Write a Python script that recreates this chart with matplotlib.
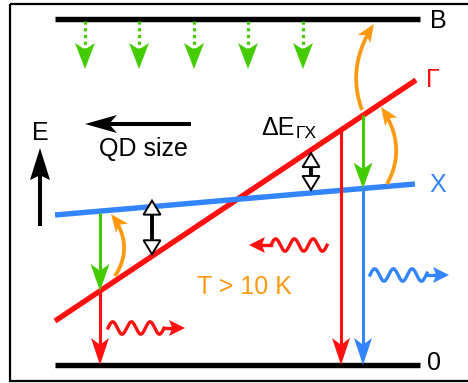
import numpy as np
import matplotlib
matplotlib.use('Agg')
import matplotlib.pyplot as plt
from matplotlib.patches import Polygon, Rectangle

plt.rcParams['font.family'] = ['Liberation Sans', 'DejaVu Sans']

# schematic band diagram, all in pixel-like units (energy grows upward = smaller y)
level_x = [55, 420]          # extent of the flat levels
b_level = 19                 # barrier/continuum level B
zero_level = 365             # ground state 0
gamma_x = [55, 416]
gamma_e = [321, 80]          # direct (Gamma) level vs. QD size
xband_x = [55, 415]
xband_e = [215, 184]         # indirect (X) level vs. QD size
capture_x = [85, 139, 194, 248, 303]   # dotted capture arrows from B
left_dot = 100               # large-QD transitions
right_red = 341              # small-QD Gamma emission
right_blue = 363             # small-QD X emission
gap_marks = [152, 311]       # positions of the Delta E arrows

RED = '#ff1010'
BLUE = '#3385ff'
GREEN = '#44cc00'
ORANGE = '#ff9a10'


def gam(x):
    return np.interp(x, gamma_x, gamma_e)


def xb(x):
    return np.interp(x, xband_x, xband_e)


def head(ax, tip, d, L, W, color, notch=0.25, hollow=False):
    d = np.asarray(d, float)
    d = d / np.linalg.norm(d)
    n = np.array([-d[1], d[0]])
    tip = np.asarray(tip, float)
    back = tip - d * L
    pts = [tip, back + n * W / 2, tip - d * L * (1 - notch), back - n * W / 2]
    if hollow:
        ax.add_patch(Polygon(pts, closed=True, fc='white', ec=color, lw=1.4,
                             joinstyle='miter', zorder=6))
    else:
        ax.add_patch(Polygon(pts, closed=True, fc=color, ec='none', zorder=6))


def arrow(ax, p0, p1, color, lw, L, W, notch=0.25, ls='-'):
    p0 = np.asarray(p0, float)
    p1 = np.asarray(p1, float)
    d = (p1 - p0) / np.linalg.norm(p1 - p0)
    end = p1 - d * L * (1 - notch)
    ax.plot([p0[0], end[0]], [p0[1], end[1]], color=color, lw=lw, ls=ls,
            solid_capstyle='butt', dash_capstyle='butt', zorder=5)
    head(ax, p1, d, L, W, color, notch)


def curved(ax, p0, c, p1, color, lw, L, W):
    p0, c, p1 = (np.asarray(p, float) for p in (p0, c, p1))
    t = np.linspace(0, 0.93, 60)[:, None]
    pts = (1 - t) ** 2 * p0 + 2 * (1 - t) * t * c + t ** 2 * p1
    ax.plot(pts[:, 0], pts[:, 1], color=color, lw=lw, solid_capstyle='butt', zorder=5)
    head(ax, p1, p1 - c, L, W, color, 0.25)


def wavy(ax, x0, x1, y, tip, color, P=18.7, A=6.2):
    xs = np.linspace(x0, x1, 200)
    ys = y - A * np.sin(2 * np.pi * (xs - x0) / P)
    ax.plot(xs, ys, color=color, lw=2.4, zorder=5)
    L = 16
    if tip > x1:
        ax.plot([x1, tip - L * 0.8], [y, y], color=color, lw=2.4, zorder=5)
        head(ax, (tip, y), (1, 0), L, 16, color, 0.2)
    else:
        ax.plot([tip + L * 0.8, x0], [y, y], color=color, lw=2.4, zorder=5)
        head(ax, (tip, y), (-1, 0), L, 16, color, 0.2)


def double(ax, x, y_top, y_bot):
    L, W = 14, 17
    ax.plot([x, x], [y_top + L, y_bot - L], color='black', lw=2.8,
            solid_capstyle='butt', zorder=5)
    head(ax, (x, y_top), (0, -1), L, W, 'black', 0, hollow=True)
    head(ax, (x, y_bot), (0, 1), L, W, 'black', 0, hollow=True)


fig = plt.figure(figsize=(4.68, 3.83), dpi=100)
ax = fig.add_axes([0, 0, 1, 1])
ax.set_xlim(0, 468)
ax.set_ylim(383, 0)
ax.axis('off')

ax.add_patch(Rectangle((10, 4), 480, 377, fill=False, ec='black', lw=1.6,
                       clip_on=False, zorder=1))

# levels
ax.plot(level_x, [b_level] * 2, color='black', lw=3.9, solid_capstyle='butt', zorder=4)
ax.plot(level_x, [zero_level] * 2, color='black', lw=3.9, solid_capstyle='butt', zorder=4)
ax.plot(gamma_x, gamma_e, color=RED, lw=3.9, solid_capstyle='butt', zorder=4)
ax.plot(xband_x, xband_e, color=BLUE, lw=3.9, solid_capstyle='butt', zorder=4)

fs = 18
ax.text(430, b_level + 2, 'B', fontsize=fs, va='center', ha='left')
ax.text(427, zero_level - 2, '0', fontsize=fs, va='center', ha='left')
ax.text(426, gamma_e[1], 'Γ', fontsize=fs, va='center', ha='left', color=RED)
ax.text(429, xband_e[1] + 1, 'X', fontsize=fs, va='center', ha='left', color=BLUE)

# capture from B
for x in capture_x:
    arrow(ax, (x, b_level + 2), (x, 69), GREEN, 2.3, 26, 20, 0.25, ls=(0, (1, 1.1)))

# axes hints
arrow(ax, (40, 226), (40, 148), 'black', 2.9, 32, 20, 0.15)
ax.text(40, 133, 'E', fontsize=fs, ha='center', va='center')
arrow(ax, (191, 124), (85, 124), 'black', 2.9, 32, 18, 0.25)
ax.text(143, 149, 'QD size', fontsize=fs, ha='center', va='center')

# energy separation
double(ax, gap_marks[0], xb(gap_marks[0]) - 7 + 1, gam(gap_marks[0]) - 2)
double(ax, gap_marks[1], gam(gap_marks[1]) + 2 + 1, xb(gap_marks[1]) - 3)
ax.text(261, 128, 'ΔE', fontsize=fs, ha='left', va='center')
ax.text(296, 134, 'ΓX', fontsize=12.5, ha='left', va='center')

# large QD: X below Gamma
arrow(ax, (left_dot, xb(left_dot) + 2), (left_dot, gam(left_dot)), GREEN, 2.2, 27, 19)
arrow(ax, (left_dot, gam(left_dot)), (left_dot, zero_level), RED, 2.2, 27, 18)
curved(ax, (115, 276), (135, 245), (111, 214), ORANGE, 2.7, 18, 15)
wavy(ax, 108, 164, 328, 185, RED)

# small QD: Gamma below X
arrow(ax, (right_red, gam(right_red)), (right_red, zero_level), RED, 2.2, 27, 18)
arrow(ax, (right_blue, xb(right_blue)), (right_blue, zero_level), BLUE, 2.2, 27, 18)
arrow(ax, (right_blue, gam(right_blue)), (right_blue, xb(right_blue)), GREEN, 2.2, 26, 19)
curved(ax, (362, 110), (346, 66), (374, 24), ORANGE, 2.7, 18, 15)
curved(ax, (387, 184), (408, 146), (381, 107), ORANGE, 2.7, 18, 15)
wavy(ax, 271, 327, 245, 249, RED)
wavy(ax, 370, 427, 275, 449, BLUE)

ax.text(244, 287, 'T > 10 K', fontsize=fs, ha='center', va='center', color=ORANGE)

fig.savefig('out.png', dpi=100)
